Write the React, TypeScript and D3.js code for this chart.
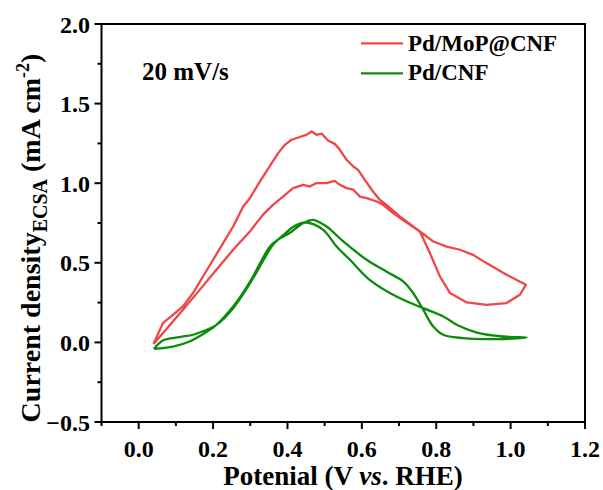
import React from "react";
import * as d3 from "d3";

// Pd/MoP@CNF closed CV loop (V vs RHE, mA cm^-2)
const redV = [0.040,0.065,0.092,0.119,0.146,0.173,0.200,0.227,0.254,0.281,0.299,0.326,0.352,0.375,0.393,0.411,0.433,0.451,0.465,0.478,0.492,0.509,0.527,0.541,0.559,0.577,0.590,0.608,0.630,0.648,0.666,0.702,0.738,0.756,0.783,0.810,0.837,0.882,0.935,0.989,1.025,1.041,
  0.989,0.935,0.899,0.864,0.828,0.792,0.756,0.729,0.684,0.657,0.640,0.613,0.595,0.577,0.559,0.541,0.527,0.505,0.478,0.460,0.442,0.415,0.388,0.361,0.334,0.299,0.254,0.209,0.164,0.119,0.065,0.040];
const redJ = [-0.01,0.121,0.173,0.226,0.310,0.414,0.519,0.624,0.728,0.854,0.906,1.011,1.105,1.189,1.241,1.273,1.290,1.304,1.325,1.304,1.311,1.268,1.247,1.210,1.147,1.105,1.084,1.021,0.948,0.896,0.864,0.791,0.728,0.697,0.561,0.414,0.310,0.251,0.236,0.247,0.299,0.362,
  0.425,0.498,0.550,0.582,0.602,0.634,0.697,0.739,0.812,0.864,0.885,0.906,0.916,0.959,0.969,0.990,1.015,1.001,1.001,0.979,0.990,0.969,0.916,0.864,0.801,0.697,0.582,0.456,0.330,0.205,0.058,-0.01];

// Pd/CNF closed CV loop
const greenV = [0.041,0.092,0.137,0.182,0.209,0.254,0.299,0.334,0.352,0.374,0.406,0.442,0.469,0.505,0.550,0.613,0.666,0.711,0.738,0.765,0.792,0.819,0.872,0.962,1.043,
  0.980,0.909,0.855,0.819,0.765,0.693,0.621,0.568,0.532,0.496,0.451,0.420,0.387,0.361,0.334,0.299,0.254,0.209,0.164,0.146,0.110,0.065,0.041];
const greenJ = [-0.040,-0.026,0.006,0.065,0.110,0.225,0.380,0.530,0.600,0.645,0.687,0.749,0.770,0.728,0.634,0.519,0.445,0.383,0.310,0.205,0.100,0.048,0.027,0.021,0.031,
  0.037,0.062,0.111,0.163,0.215,0.288,0.393,0.519,0.602,0.707,0.753,0.732,0.670,0.613,0.510,0.370,0.215,0.110,0.062,0.048,0.033,0.012,-0.040];

const xMajor = [0.0, 0.2, 0.4, 0.6, 0.8, 1.0, 1.2];
const xMinor = [-0.1, 0.1, 0.3, 0.5, 0.7, 0.9, 1.1];
const yMajor = [-0.5, 0.0, 0.5, 1.0, 1.5, 2.0];
const yMinor = [-0.25, 0.25, 0.75, 1.25, 1.75];

const seriesNames = ["Pd/MoP@CNF", "Pd/CNF"];
const colors = ["#EF4747", "#0B8C0B"];

export default function App() {
  const W = 603, H = 490;
  const left = 101.5, right = 585, top = 24, bottom = 422;
  const x = d3.scaleLinear().domain([-0.1, 1.2]).range([left, right]);
  const y = d3.scaleLinear().domain([-0.5, 2.0]).range([bottom, top]);
  const line = d3.line<[number, number]>().x(d => x(d[0])).y(d => y(d[1]));
  const smooth = d3.line<[number, number]>().x(d => x(d[0])).y(d => y(d[1])).curve(d3.curveCatmullRom.alpha(0.5));
  const red = redV.map((v, i) => [v, redJ[i]] as [number, number]);
  const green = greenV.map((v, i) => [v, greenJ[i]] as [number, number]);
  const font = "'Liberation Serif', 'Times New Roman', serif";
  const fmt = d3.format(".1f");
  return (
    <svg width={W} height={H} style={{ position: "absolute", left: 0, top: 0, background: "#fff" }} fontFamily={font} fontWeight="bold">
      <defs>
        <clipPath id="clip"><rect x={left} y={top} width={right - left} height={bottom - top} /></clipPath>
      </defs>
      <g clipPath="url(#clip)">
        <path d={smooth(green) || ""} fill="none" stroke={colors[1]} strokeWidth={2.3} strokeLinejoin="round" />
        <path d={line(red) || ""} fill="none" stroke={colors[0]} strokeWidth={2.3} strokeLinejoin="round" />
      </g>
      <rect x={left} y={top} width={right - left} height={bottom - top} fill="none" stroke="#000" strokeWidth={2} />
      {xMajor.map(t => (
        <g key={"xm" + t}>
          <line x1={x(t)} x2={x(t)} y1={bottom} y2={bottom + 7} stroke="#000" strokeWidth={2} />
          <text x={x(t)} y={457} textAnchor="middle" fontSize={24}>{fmt(t)}</text>
        </g>
      ))}
      {xMinor.map(t => (
        <line key={"xn" + t} x1={x(t)} x2={x(t)} y1={bottom} y2={bottom + 4} stroke="#000" strokeWidth={2} />
      ))}
      {yMajor.map(t => (
        <g key={"ym" + t}>
          <line x1={left} x2={left - 7} y1={y(t)} y2={y(t)} stroke="#000" strokeWidth={2} />
          <text x={90} y={y(t) + 8.5} textAnchor="end" fontSize={24}>{fmt(t)}</text>
        </g>
      ))}
      {yMinor.map(t => (
        <line key={"yn" + t} x1={left} x2={left - 4} y1={y(t)} y2={y(t)} stroke="#000" strokeWidth={2} />
      ))}
      <text x={343} y={485} textAnchor="middle" fontSize={27}>
        Potenial (V <tspan fontStyle="italic">vs</tspan>. RHE)
      </text>
      <text transform="translate(40,238) rotate(-90)" textAnchor="middle" fontSize={28}>
        Current density<tspan fontSize={20} dy={7}>ECSA</tspan><tspan dy={-7}> (mA cm</tspan><tspan fontSize={18} dy={-11}>-2</tspan><tspan dy={11}>)</tspan>
      </text>
      <text x={142} y={80} fontSize={25}>20 mV/s</text>
      {seriesNames.map((n, i) => (
        <g key={n}>
          <line x1={361} x2={403} y1={43.3 + i * 30} y2={43.3 + i * 30} stroke={colors[i]} strokeWidth={2.3} />
          <text x={408} y={51 + i * 29} fontSize={23}>{n}</text>
        </g>
      ))}
    </svg>
  );
}
